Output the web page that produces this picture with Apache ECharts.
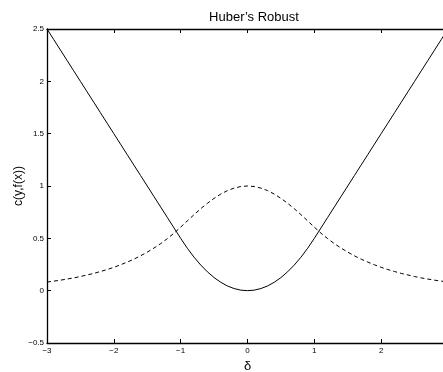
<!DOCTYPE html>
<html><head><meta charset="utf-8">
<script src="https://cdn.jsdelivr.net/npm/echarts@6/dist/echarts.min.js"></script>
<style>html,body{margin:0;padding:0;background:#fff}#c{width:443px;height:372px}</style>
</head><body><div id="c"></div>
<script>
const xs = [-3,-2.9,-2.8,-2.7,-2.6,-2.5,-2.4,-2.3,-2.2,-2.1,-2,-1.9,-1.8,-1.7,-1.6,-1.5,-1.4,-1.3,-1.2,-1.1,-1,-0.9,-0.8,-0.7,-0.6,-0.5,-0.4,-0.3,-0.2,-0.1,0,0.1,0.2,0.3,0.4,0.5,0.6,0.7,0.8,0.9,1,1.1,1.2,1.3,1.4,1.5,1.6,1.7,1.8,1.9,2,2.1,2.2,2.3,2.4,2.5,2.6,2.7,2.8,2.9,3];
const lossValues = [2.5,2.4,2.3,2.2,2.1,2.0,1.9,1.8,1.7,1.6,1.5,1.4,1.3,1.2,1.1,1.0,0.9,0.8,0.7,0.6,0.5,0.405,0.32,0.245,0.18,0.125,0.08,0.045,0.02,0.005,0,0.005,0.02,0.045,0.08,0.125,0.18,0.245,0.32,0.405,0.5,0.6,0.7,0.8,0.9,1.0,1.1,1.2,1.3,1.4,1.5,1.6,1.7,1.8,1.9,2.0,2.1,2.2,2.3,2.4,2.5];
const densityValues = [0.082,0.091,0.100,0.111,0.122,0.135,0.150,0.165,0.183,0.202,0.223,0.247,0.273,0.301,0.333,0.368,0.407,0.449,0.497,0.549,0.607,0.667,0.726,0.783,0.835,0.882,0.923,0.956,0.980,0.995,1.0,0.995,0.980,0.956,0.923,0.882,0.835,0.783,0.726,0.667,0.607,0.549,0.497,0.449,0.407,0.368,0.333,0.301,0.273,0.247,0.223,0.202,0.183,0.165,0.150,0.135,0.122,0.111,0.100,0.091,0.082];
const titleText = "Huber\u2019s Robust";
const yName = "c(y,f(x))";
const xName = "\u03b4";

const font = "'Liberation Sans', Arial, Helvetica, sans-serif";
const fmt = v => String(v).replace('-', '\u2212');
const chart = echarts.init(document.getElementById('c'), null, {renderer:'canvas'});
chart.setOption({
  animation:false,
  backgroundColor:'#fff',
  title:{text:titleText, left:249, top:6, textAlign:'center',
    textStyle:{fontFamily:font, fontSize:13, fontWeight:'normal', color:'#000'}},
  grid:{left:47, top:29, width:401, height:314, containLabel:false, outerBoundsMode:'none'},
  xAxis:[{type:'value', min:-3, max:3, interval:1, position:'bottom',
      name:xName, nameLocation:'middle', nameGap:13,
      nameTextStyle:{fontFamily:font, fontSize:13, color:'#000'},
      axisLine:{onZero:false, lineStyle:{color:'#000', width:1.3}},
      axisTick:{inside:true, length:4, lineStyle:{color:'#000'}},
      axisLabel:{fontFamily:font, fontSize:8, color:'#000', margin:4, formatter:fmt},
      splitLine:{show:false}},
    {type:'value', min:-3, max:3, interval:1, position:'top',
      axisLine:{onZero:false, lineStyle:{color:'#000', width:1.3}},
      axisTick:{inside:true, length:4, lineStyle:{color:'#000'}},
      axisLabel:{show:false}, splitLine:{show:false}}],
  yAxis:[{type:'value', min:-0.5, max:2.5, interval:0.5,
      name:yName, nameLocation:'middle', nameGap:22, nameRotate:90, nameMoveOverlap:false,
      nameTextStyle:{fontFamily:font, fontSize:12, color:'#000'},
      axisLine:{onZero:false, lineStyle:{color:'#000', width:1.3}},
      axisTick:{inside:true, length:4, lineStyle:{color:'#000'}},
      axisLabel:{fontFamily:font, fontSize:8, color:'#000', margin:3, formatter:fmt},
      splitLine:{show:false}}],
  series:[
    {type:'line', data:xs.map((x,i)=>[x,lossValues[i]]), showSymbol:false, smooth:false,
      lineStyle:{color:'#000', width:1}},
    {type:'line', data:xs.map((x,i)=>[x,densityValues[i]]), showSymbol:false, smooth:false,
      lineStyle:{color:'#000', width:1, type:[4,3]}}
  ]
});
</script></body></html>
